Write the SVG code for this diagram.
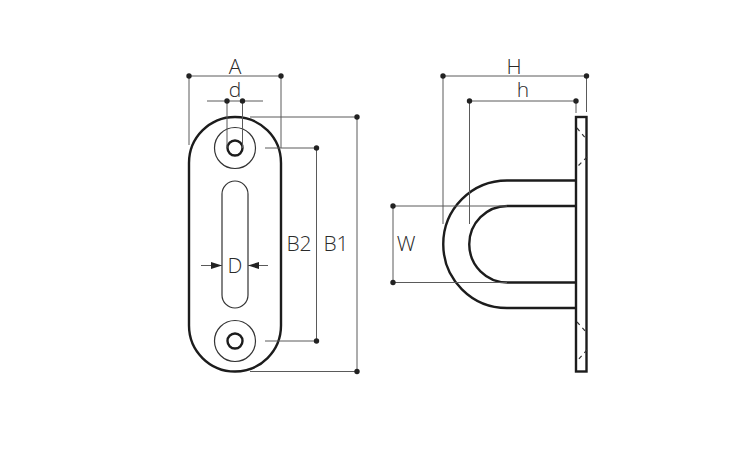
<svg xmlns="http://www.w3.org/2000/svg" width="750" height="450" viewBox="0 0 750 450">
<style>
.o{fill:none;stroke:#1c1c1c;stroke-width:2.400}
.t{fill:none;stroke:#333;stroke-width:1.200}
.d{fill:none;stroke:#5a5a5a;stroke-width:1}
.p{fill:#222}
text{font-family:"Open Sans","Noto Sans",sans-serif;font-size:21px;font-weight:300;fill:#2a2a2a;text-anchor:middle}
</style>
<rect width="750" height="450" fill="#fff"/>
<g id="front-view">
<rect class="o" x="189" y="117" width="92" height="254.500" rx="46" ry="46"/>
<rect class="t" x="222" y="181" width="26" height="127" rx="13" ry="13"/>
<circle class="t" cx="235" cy="148" r="20.500"/><circle class="o" cx="235" cy="148" r="7.500"/>
<circle class="t" cx="235" cy="341" r="20.500"/><circle class="o" cx="235" cy="341" r="7.500"/>
</g>
<g id="side-view">
<path class="o" d="M576 180.500H507A63.750 63.750 0 0 0 507 308H576"/>
<path class="o" d="M576 206H507.500A38.250 38.250 0 0 0 507.500 282.500H576"/>
<rect class="o" x="576" y="117" width="10.500" height="254.500"/>
<path class="t" d="M577 128L587 140M587 157L577 167M577 322L587 333M587 350L577 361" stroke-dasharray="4 4"/>
</g>
<g id="connectors">
<path class="d" d="M189 76H281M189 76V145M281 76V148"/>
<path class="d" d="M207 101H263M227 101V148M242.500 101V148"/>
<path class="d" d="M250 117H357V371.500H250"/>
<path class="d" d="M265 148H316.500V341H265"/>
<path class="d" d="M201 265.500H222M248 265.500H268"/>
<path class="p" d="M222 265.500L211 262V269Z"/><path class="p" d="M248 265.500L259 262V269Z"/>
<path class="d" d="M443 224V76H586.500V112"/>
<path class="d" d="M469.500 224V101H576V113"/>
<path class="d" d="M507 206H393V282.500H507"/>
<g class="p">
<circle cx="189" cy="76" r="2.700"/><circle cx="281" cy="76" r="2.700"/>
<circle cx="227" cy="101" r="2.700"/><circle cx="242.500" cy="101" r="2.700"/>
<circle cx="357" cy="117" r="2.700"/><circle cx="357" cy="371.500" r="2.700"/>
<circle cx="316.500" cy="148" r="2.700"/><circle cx="316.500" cy="341" r="2.700"/>
<circle cx="443" cy="76" r="2.700"/><circle cx="586.500" cy="76" r="2.700"/>
<circle cx="469.500" cy="101" r="2.700"/><circle cx="576" cy="101" r="2.700"/>
<circle cx="393" cy="206" r="2.700"/><circle cx="393" cy="282.500" r="2.700"/>
</g>
</g>
<g id="labels">
<text x="235" y="74">A</text><text x="235" y="97">d</text><text x="235" y="273">D</text>
<text x="299" y="251">B2</text><text x="336" y="251">B1</text>
<text x="406" y="251">W</text><text x="514" y="74">H</text><text x="523" y="97">h</text>
</g>
</svg>
